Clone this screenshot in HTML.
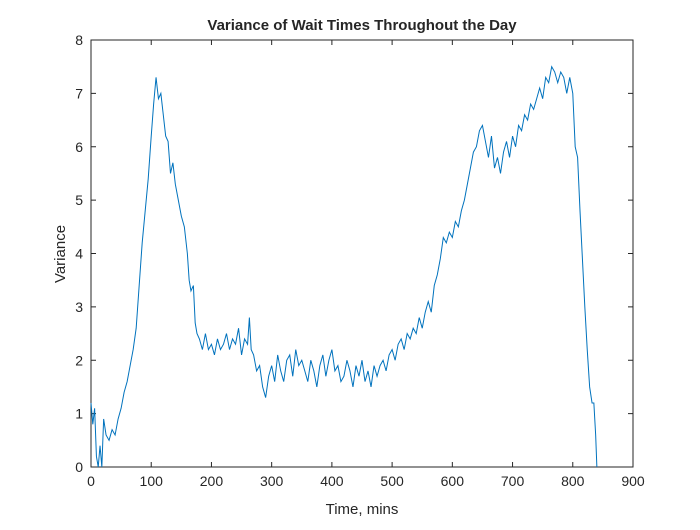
<!DOCTYPE html>
<html><head><meta charset="utf-8"><style>
body{margin:0;background:#fff}
svg text{font-family:"Liberation Sans",Arial,sans-serif;fill:#262626}
</style></head><body>
<svg id="chart" width="700" height="525">
<rect width="700" height="525" fill="#fff"/>
<g id="g"></g>
</svg>
<script>
const times=[0,3,6,9,12,15,18,21,25,30,35,40,45,50,55,60,65,70,75,80,85,90,95,100,104,108,112,116,120,124,128,132,136,140,145,150,155,160,163,166,170,173,176,180,185,190,195,200,205,210,215,220,225,230,235,240,245,250,255,260,263,266,270,275,280,285,290,295,300,305,310,315,320,325,330,335,340,345,350,355,360,365,370,375,380,385,390,395,400,405,410,415,420,425,430,435,440,445,450,455,460,465,470,475,480,485,490,495,500,505,510,515,520,525,530,535,540,545,550,555,560,565,570,575,580,585,590,595,600,605,610,615,620,625,630,635,640,645,650,655,660,665,670,675,680,685,690,695,700,705,710,715,720,725,730,735,740,745,750,755,760,765,770,775,780,785,790,795,800,804,808,812,816,820,824,828,832,835,838,840,842];
const variance=[1.2,0.8,1.1,0.2,0,0.4,0,0.9,0.6,0.5,0.7,0.6,0.9,1.1,1.4,1.6,1.9,2.2,2.6,3.4,4.2,4.8,5.4,6.2,6.8,7.3,6.9,7.0,6.6,6.2,6.1,5.5,5.7,5.3,5.0,4.7,4.5,4.0,3.5,3.3,3.4,2.7,2.5,2.4,2.2,2.5,2.2,2.3,2.1,2.4,2.2,2.3,2.5,2.2,2.4,2.3,2.6,2.1,2.4,2.3,2.8,2.2,2.1,1.8,1.9,1.5,1.3,1.7,1.9,1.6,2.1,1.8,1.6,2.0,2.1,1.7,2.2,1.9,2.0,1.8,1.6,2.0,1.8,1.5,1.9,2.1,1.7,2.0,2.2,1.8,1.9,1.6,1.7,2.0,1.8,1.5,1.9,1.7,2.0,1.6,1.8,1.5,1.9,1.7,1.9,2.0,1.8,2.1,2.2,2.0,2.3,2.4,2.2,2.5,2.4,2.6,2.5,2.8,2.6,2.9,3.1,2.9,3.4,3.6,3.9,4.3,4.2,4.4,4.3,4.6,4.5,4.8,5.0,5.3,5.6,5.9,6.0,6.3,6.4,6.1,5.8,6.2,5.6,5.8,5.5,5.9,6.1,5.8,6.2,6.0,6.4,6.3,6.6,6.5,6.8,6.7,6.9,7.1,6.9,7.3,7.2,7.5,7.4,7.2,7.4,7.3,7.0,7.3,7.0,6.0,5.8,4.8,3.9,3.0,2.2,1.5,1.2,1.2,0.6,0];
const xTicks=[0,100,200,300,400,500,600,700,800,900];
const yTicks=[0,1,2,3,4,5,6,7,8];
const L=91,R=633,T=40,B=467;
const xs=v=>L+(v-0)/900*(R-L), ys=v=>B-(v/8)*(B-T);
const g=document.getElementById('g'),NS='http://www.w3.org/2000/svg';
function mk(t,a,txt){const e=document.createElementNS(NS,t);for(const k in a)e.setAttribute(k,a[k]);if(txt!==undefined)e.textContent=txt;g.appendChild(e);return e;}
let e=mk('rect',{x:L,y:T,width:R-L,height:B-T,fill:'none',stroke:'#262626','stroke-width':1});


xTicks.forEach(v=>{const x=xs(v);
mk('line',{x1:x,x2:x,y1:B,y2:B-5,stroke:'#262626'});
mk('line',{x1:x,x2:x,y1:T,y2:T+5,stroke:'#262626'});
const t=mk('text',{x:x,y:B+19,'text-anchor':'middle','font-size':14},v);

});
yTicks.forEach(v=>{const y=ys(v);
mk('line',{x1:L,x2:L+5,y1:y,y2:y,stroke:'#262626'});
mk('line',{x1:R,x2:R-5,y1:y,y2:y,stroke:'#262626'});
const t=mk('text',{x:L-8,y:y+5,'text-anchor':'end','font-size':14},v);

});
const pts=times.map((t,i)=>xs(t)+','+ys(variance[i])).join(' ');
e=mk('polyline',{points:pts,fill:'none',stroke:'#0072BD','stroke-width':1});


e=mk('text',{x:362,y:30,'text-anchor':'middle','font-size':15,'font-weight':'bold',fill:'#000'},'Variance of Wait Times Throughout the Day');


e=mk('text',{x:362,y:514,'text-anchor':'middle','font-size':15},'Time, mins');


e=mk('text',{x:65,y:254,'text-anchor':'middle','font-size':15,transform:'rotate(-90 65 254)'},'Variance');


</script>
</body></html>
